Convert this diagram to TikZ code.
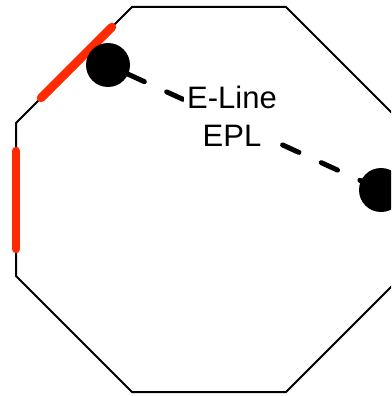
\documentclass[tikz,border=0pt]{standalone}
\usepackage{fontspec}
\setmainfont{Liberation Sans}
\definecolor{edgered}{RGB}{255,42,0}
\begin{document}
\begin{tikzpicture}[x=1pt,y=-1pt,
  octa/.style={draw=black,line width=2pt,line join=miter},
  hot/.style={draw=edgered,line width=8.5pt,line cap=round},
  dot/.style={circle,fill=black,inner sep=0pt,minimum size=44pt},
  link/.style={line width=5pt,line cap=round,dash pattern=on 18pt off 24.5pt,dash phase=20.5pt},
  lbl/.style={fill=white,inner sep=3pt,align=center,font=\fontsize{31}{38}\selectfont}]
\useasboundingbox (0,0) rectangle (391,396);
\clip (0,0) rectangle (391,396);
\draw[octa] (132,7) -- (286,7) -- (402,123) -- (402,276) -- (286,392) -- (132,392) -- (16,276) -- (16,123) -- cycle;
\draw[hot] (112,27) -- (41,98);
\draw[hot] (16,151) -- (16,249);
\node[dot] (d1) at (108,65) {};
\node[dot] (d2) at (381,190) {};
\draw[link] (d1.center) -- (d2.center);
\node[lbl] (t) at (232,116) {E-Line\\EPL};
\end{tikzpicture}
\end{document}
